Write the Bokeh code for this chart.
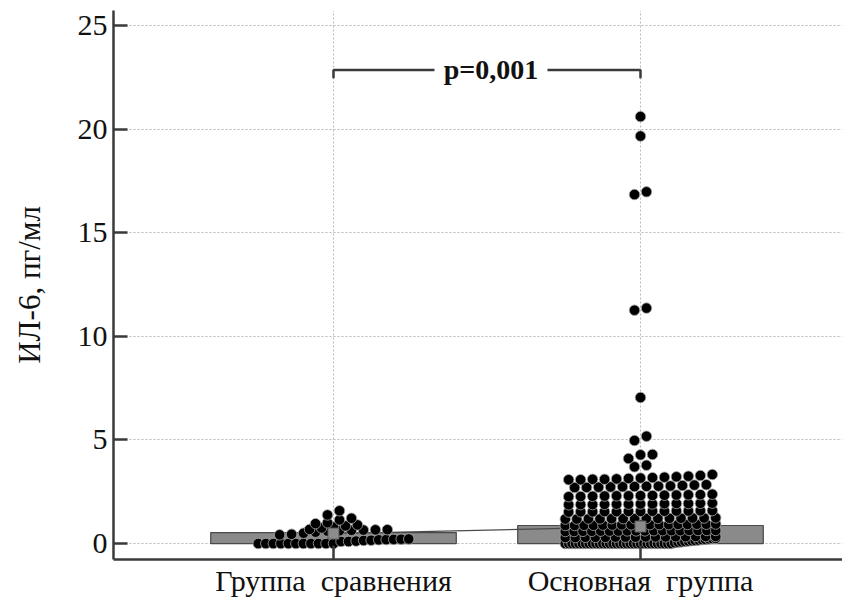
from bokeh.plotting import figure
from bokeh.models import Range1d, FixedTicker, Label
from bokeh.embed import file_html
from bokeh.resources import INLINE

# ---------------- data ----------------
categories = ["Группа\u00a0 сравнения", "Основная\u00a0 группа"]
cat_pos = [1, 2]
bar_heights = [0.53, 0.87]
mean_values = [0.48, 0.82]
y_ticks = [0, 5, 10, 15, 20, 25]
y_title = "ИЛ-6, пг/мл"
p_text = "p=0,001"

group1 = [
    0.0, 0.0, 0.0, 0.0, 0.0, 0.0, 0.0, 0.0, 0.0, 0.0, 0.0,
    0.1, 0.1, 0.12, 0.15, 0.16, 0.18, 0.19, 0.2, 0.21, 0.22,
    0.42, 0.45, 0.5, 0.55, 0.6, 0.62, 0.64, 0.65, 0.66, 0.67, 0.68,
    0.75, 0.8, 0.85, 0.9, 0.96, 1.0,
    1.14, 1.22, 1.38,
    1.58,
]

group2 = [
    0.0, 0.0, 0.0, 0.0, 0.0, 0.0, 0.0, 0.0, 0.0, 0.0, 0.0, 0.0, 0.0, 0.0, 0.0, 0.0,
    0.0, 0.0, 0.0, 0.0, 0.0, 0.0, 0.0, 0.0, 0.0, 0.0, 0.0, 0.0, 0.0, 0.0, 0.0, 0.0,
    0.04, 0.06, 0.08, 0.1, 0.12, 0.14, 0.15, 0.17, 0.19, 0.2, 0.22, 0.24, 0.25,
    0.29, 0.29, 0.3, 0.3, 0.3, 0.31, 0.31, 0.31, 0.32, 0.32, 0.32, 0.33, 0.33, 0.34, 0.34, 0.34,
    0.58, 0.58, 0.59, 0.59, 0.6, 0.6, 0.6, 0.61, 0.61, 0.61, 0.62, 0.62, 0.62, 0.62, 0.63, 0.63, 0.63, 0.63,
    0.87, 0.87, 0.88, 0.88, 0.89, 0.89, 0.9, 0.9, 0.9, 0.91, 0.91, 0.91, 0.92, 0.92, 0.93, 0.93, 0.94,
    1.18, 1.18, 1.19, 1.19, 1.2, 1.2, 1.2, 1.21, 1.21, 1.22, 1.22, 1.23, 1.23, 1.24,
    1.52, 1.53, 1.53, 1.54, 1.54, 1.55, 1.55, 1.56, 1.56, 1.57, 1.57, 1.58, 1.59,
    1.87, 1.88, 1.88, 1.89, 1.9, 1.9, 1.91, 1.91, 1.92, 1.93, 1.93, 1.94, 1.95,
    2.26, 2.27, 2.28, 2.29, 2.3, 2.3, 2.31, 2.32, 2.33, 2.34, 2.35, 2.36, 2.38,
    2.7, 2.71, 2.72, 2.73, 2.74, 2.75, 2.76, 2.77, 2.78, 2.8, 2.82, 2.84,
    3.08, 3.08, 3.1, 3.1, 3.12, 3.14, 3.16, 3.18, 3.2, 3.22, 3.25, 3.28, 3.33,
    3.7, 3.78, 4.1, 4.28, 4.3, 4.97, 5.18, 7.05,
    11.26, 11.36, 16.84, 16.97, 19.66, 20.6,
]

bracket_y = 22.85
bracket_drop = 0.4

FONT = "Liberation Serif"
INK = "#3a3a3a"


def swarm(vals, center, row_h=0.26, max_w=0.49, max_step=0.039):
    """Group sorted values into rows and spread each row horizontally."""
    vals = sorted(vals)
    rows, cur, start = [], [], None
    for v in vals:
        if start is None or v > start + row_h:
            if cur:
                rows.append(cur)
            cur, start = [v], v
        else:
            cur.append(v)
    if cur:
        rows.append(cur)
    xs, ys = [], []
    for r in rows:
        n = len(r)
        step = min(max_step, max_w / (n - 1)) if n > 1 else 0.0
        for k, v in enumerate(r):
            xs.append(center + (k - (n - 1) / 2) * step)
            ys.append(v)
    return xs, ys


p = figure(width=842, height=599, output_backend="svg", toolbar_location=None,
           x_range=Range1d(0.2834, 2.658), y_range=Range1d(-0.77, 25.72),
           min_border_left=113, min_border_right=0, min_border_top=10,
           min_border_bottom=30)
p.outline_line_color = None
p.background_fill_color = "white"

# axes
p.xaxis.ticker = FixedTicker(ticks=cat_pos)
p.xaxis.major_label_overrides = {c: t for c, t in zip(cat_pos, categories)}
p.yaxis.ticker = FixedTicker(ticks=y_ticks)
for ax in (p.xaxis[0], p.yaxis[0]):
    ax.axis_line_width = 2.5
    ax.axis_line_color = INK
    ax.major_tick_in = 14
    ax.major_tick_out = 0
    ax.major_tick_line_width = 2.5
    ax.major_tick_line_color = INK
    ax.minor_tick_line_color = None
    ax.major_label_text_font = FONT
    ax.major_label_text_color = "#111111"
p.xaxis.major_label_text_font_size = "30px"
p.yaxis.major_label_text_font_size = "30px"
p.xaxis.major_label_standoff = 4
p.yaxis.major_label_standoff = 6
p.yaxis.axis_label = y_title
p.yaxis.axis_label_text_font = FONT
p.yaxis.axis_label_text_font_size = "31px"
p.yaxis.axis_label_text_font_style = "normal"
p.yaxis.axis_label_text_color = "#111111"
p.yaxis.axis_label_standoff = 28

for g in (p.xgrid[0], p.ygrid[0]):
    g.grid_line_color = "#b8b8b8"
    g.grid_line_dash = "2 2"
    g.grid_line_width = 1

# bars
p.vbar(x=cat_pos, top=bar_heights, bottom=0, width=0.8,
       fill_color="#8a8a8a", line_color="#4a4a4a", line_width=1.2)

# line joining the group means
p.line(cat_pos, mean_values, line_color="#4a4a4a", line_width=1.2)

# dots
for c, vals in zip(cat_pos, (group1, group2)):
    xs, ys = swarm(vals, c)
    p.scatter(xs, ys, size=10.5, fill_color="black", line_color="#a8a8a8",
              line_width=0.8)

# mean markers
p.scatter(cat_pos, mean_values, marker="square", size=11,
          fill_color="#8c8c8c", line_color="#5a5a5a", line_width=1)

# significance bracket
mid = 1.513
gap = 0.184
p.line([cat_pos[0], cat_pos[0], mid - gap],
       [bracket_y - bracket_drop, bracket_y, bracket_y],
       line_color=INK, line_width=2.5)
p.line([mid + gap, cat_pos[1], cat_pos[1]],
       [bracket_y, bracket_y, bracket_y - bracket_drop],
       line_color=INK, line_width=2.5)
p.add_layout(Label(x=mid, y=bracket_y, text=p_text, text_align="center",
                   text_baseline="middle", text_font=FONT,
                   text_font_style="bold", text_font_size="28px",
                   text_color="#111111"))

open("out.html", "w").write(file_html(p, INLINE))
